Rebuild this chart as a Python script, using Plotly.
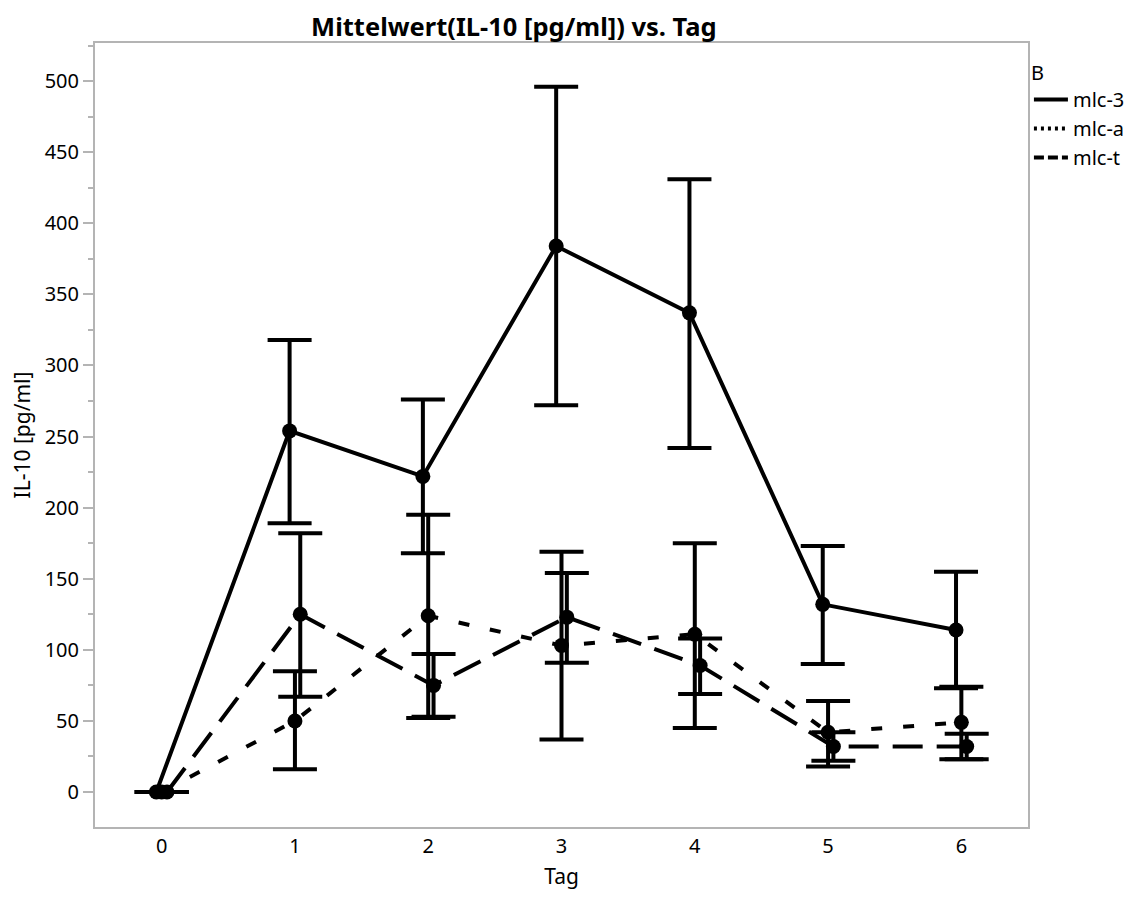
import numpy as np
import plotly.graph_objects as go

days = [0, 1, 2, 3, 4, 5, 6]
tick_labels = ["0", "1", "2", "3", "4", "5", "6"]

series_names = ["mlc-3", "mlc-a", "mlc-t"]

mlc3_mean = [0, 254, 222, 384, 337, 132, 114]
mlc3_upper = [0, 318, 276, 496, 431, 173, 155]
mlc3_lower = [0, 189, 168, 272, 242, 90, 73]

mlca_mean = [0, 50, 124, 103, 111, 42, 49]
mlca_upper = [0, 85, 195, 169, 175, 64, 74]
mlca_lower = [0, 16, 52, 37, 45, 18, 23]

mlct_mean = [0, 125, 75, 123, 89, 32, 32]
mlct_upper = [0, 182, 97, 154, 108, 42, 41]
mlct_lower = [0, 67, 53, 91, 69, 22, 23]

FONT = "Noto Sans"

styles = {
    "mlc-3": dict(dash="solid", offset=-0.04),
    "mlc-a": dict(dash="11px,21px", offset=0.0),
    "mlc-t": dict(dash="30px,14px", offset=0.04),
}

data = {
    "mlc-3": (mlc3_mean, mlc3_upper, mlc3_lower),
    "mlc-a": (mlca_mean, mlca_upper, mlca_lower),
    "mlc-t": (mlct_mean, mlct_upper, mlct_lower),
}

fig = go.Figure()
for name in series_names:
    mean, up, lo = data[name]
    st = styles[name]
    x = [d + st["offset"] for d in days]
    plus = [u - m for u, m in zip(up, mean)]
    minus = [m - l for m, l in zip(mean, lo)]
    fig.add_trace(go.Scatter(
        x=x, y=mean, name=name, mode="lines+markers", showlegend=False,
        line=dict(color="black", width=4, dash=st["dash"]),
        marker=dict(color="black", size=15),
        error_y=dict(type="data", symmetric=False, array=plus, arrayminus=minus,
                     color="black", thickness=4, width=22),
    ))

legend_dash = {"mlc-3": "solid", "mlc-a": "3px,4px", "mlc-t": "10px,4px"}
for name in series_names:
    fig.add_trace(go.Scatter(
        x=[None], y=[None], name=name, mode="lines", showlegend=True,
        line=dict(color="black", width=4, dash=legend_dash[name]),
    ))

# the page body adds an 8px margin; the figure is sized to fill the rest of the window
fig.update_layout(
    width=1124, height=882,
    paper_bgcolor="white", plot_bgcolor="white",
    margin=dict(l=87, r=104, t=35, b=63, autoexpand=False),
    font=dict(family=FONT, size=20, color="black"),
    title=dict(text="<b>Mittelwert(IL-10 [pg/ml]) vs. Tag</b>", x=0.449, xref="paper",
               xanchor="center", y=0.9785, yanchor="middle", yref="container",
               automargin=False,
               font=dict(family=FONT, size=25.5, color="black")),
    showlegend=True,
    legend=dict(x=1.001, y=0.986, xanchor="left", yanchor="top",
                title=dict(text="B", font=dict(size=20)),
                font=dict(size=20), bgcolor="rgba(0,0,0,0)",
                itemwidth=34, tracegroupgap=0),
)

fig.update_xaxes(
    range=[-0.5, 6.5], tickmode="array", tickvals=days, ticktext=tick_labels,
    showgrid=False, zeroline=False, showline=True, linecolor="#b4b4b4", linewidth=2,
    mirror=True, ticks="", tickfont=dict(size=20), automargin=False,
    title=dict(text="Tag", font=dict(size=21), standoff=30),
)
fig.update_yaxes(
    range=[-24.6, 526.8], tickmode="linear", tick0=0, dtick=50,
    showgrid=False, zeroline=False, showline=True, linecolor="#b4b4b4", linewidth=2,
    mirror=True, ticks="outside", ticklen=10, tickwidth=1.5, tickcolor="#b4b4b4",
    minor=dict(ticks="outside", ticklen=5, tickwidth=1.5, tickcolor="#b4b4b4", dtick=25, tick0=0),
    tickfont=dict(size=20), automargin=False,
    title=dict(text="IL-10 [pg/ml]", font=dict(size=21), standoff=14),
)

fig.write_html("out.html")
